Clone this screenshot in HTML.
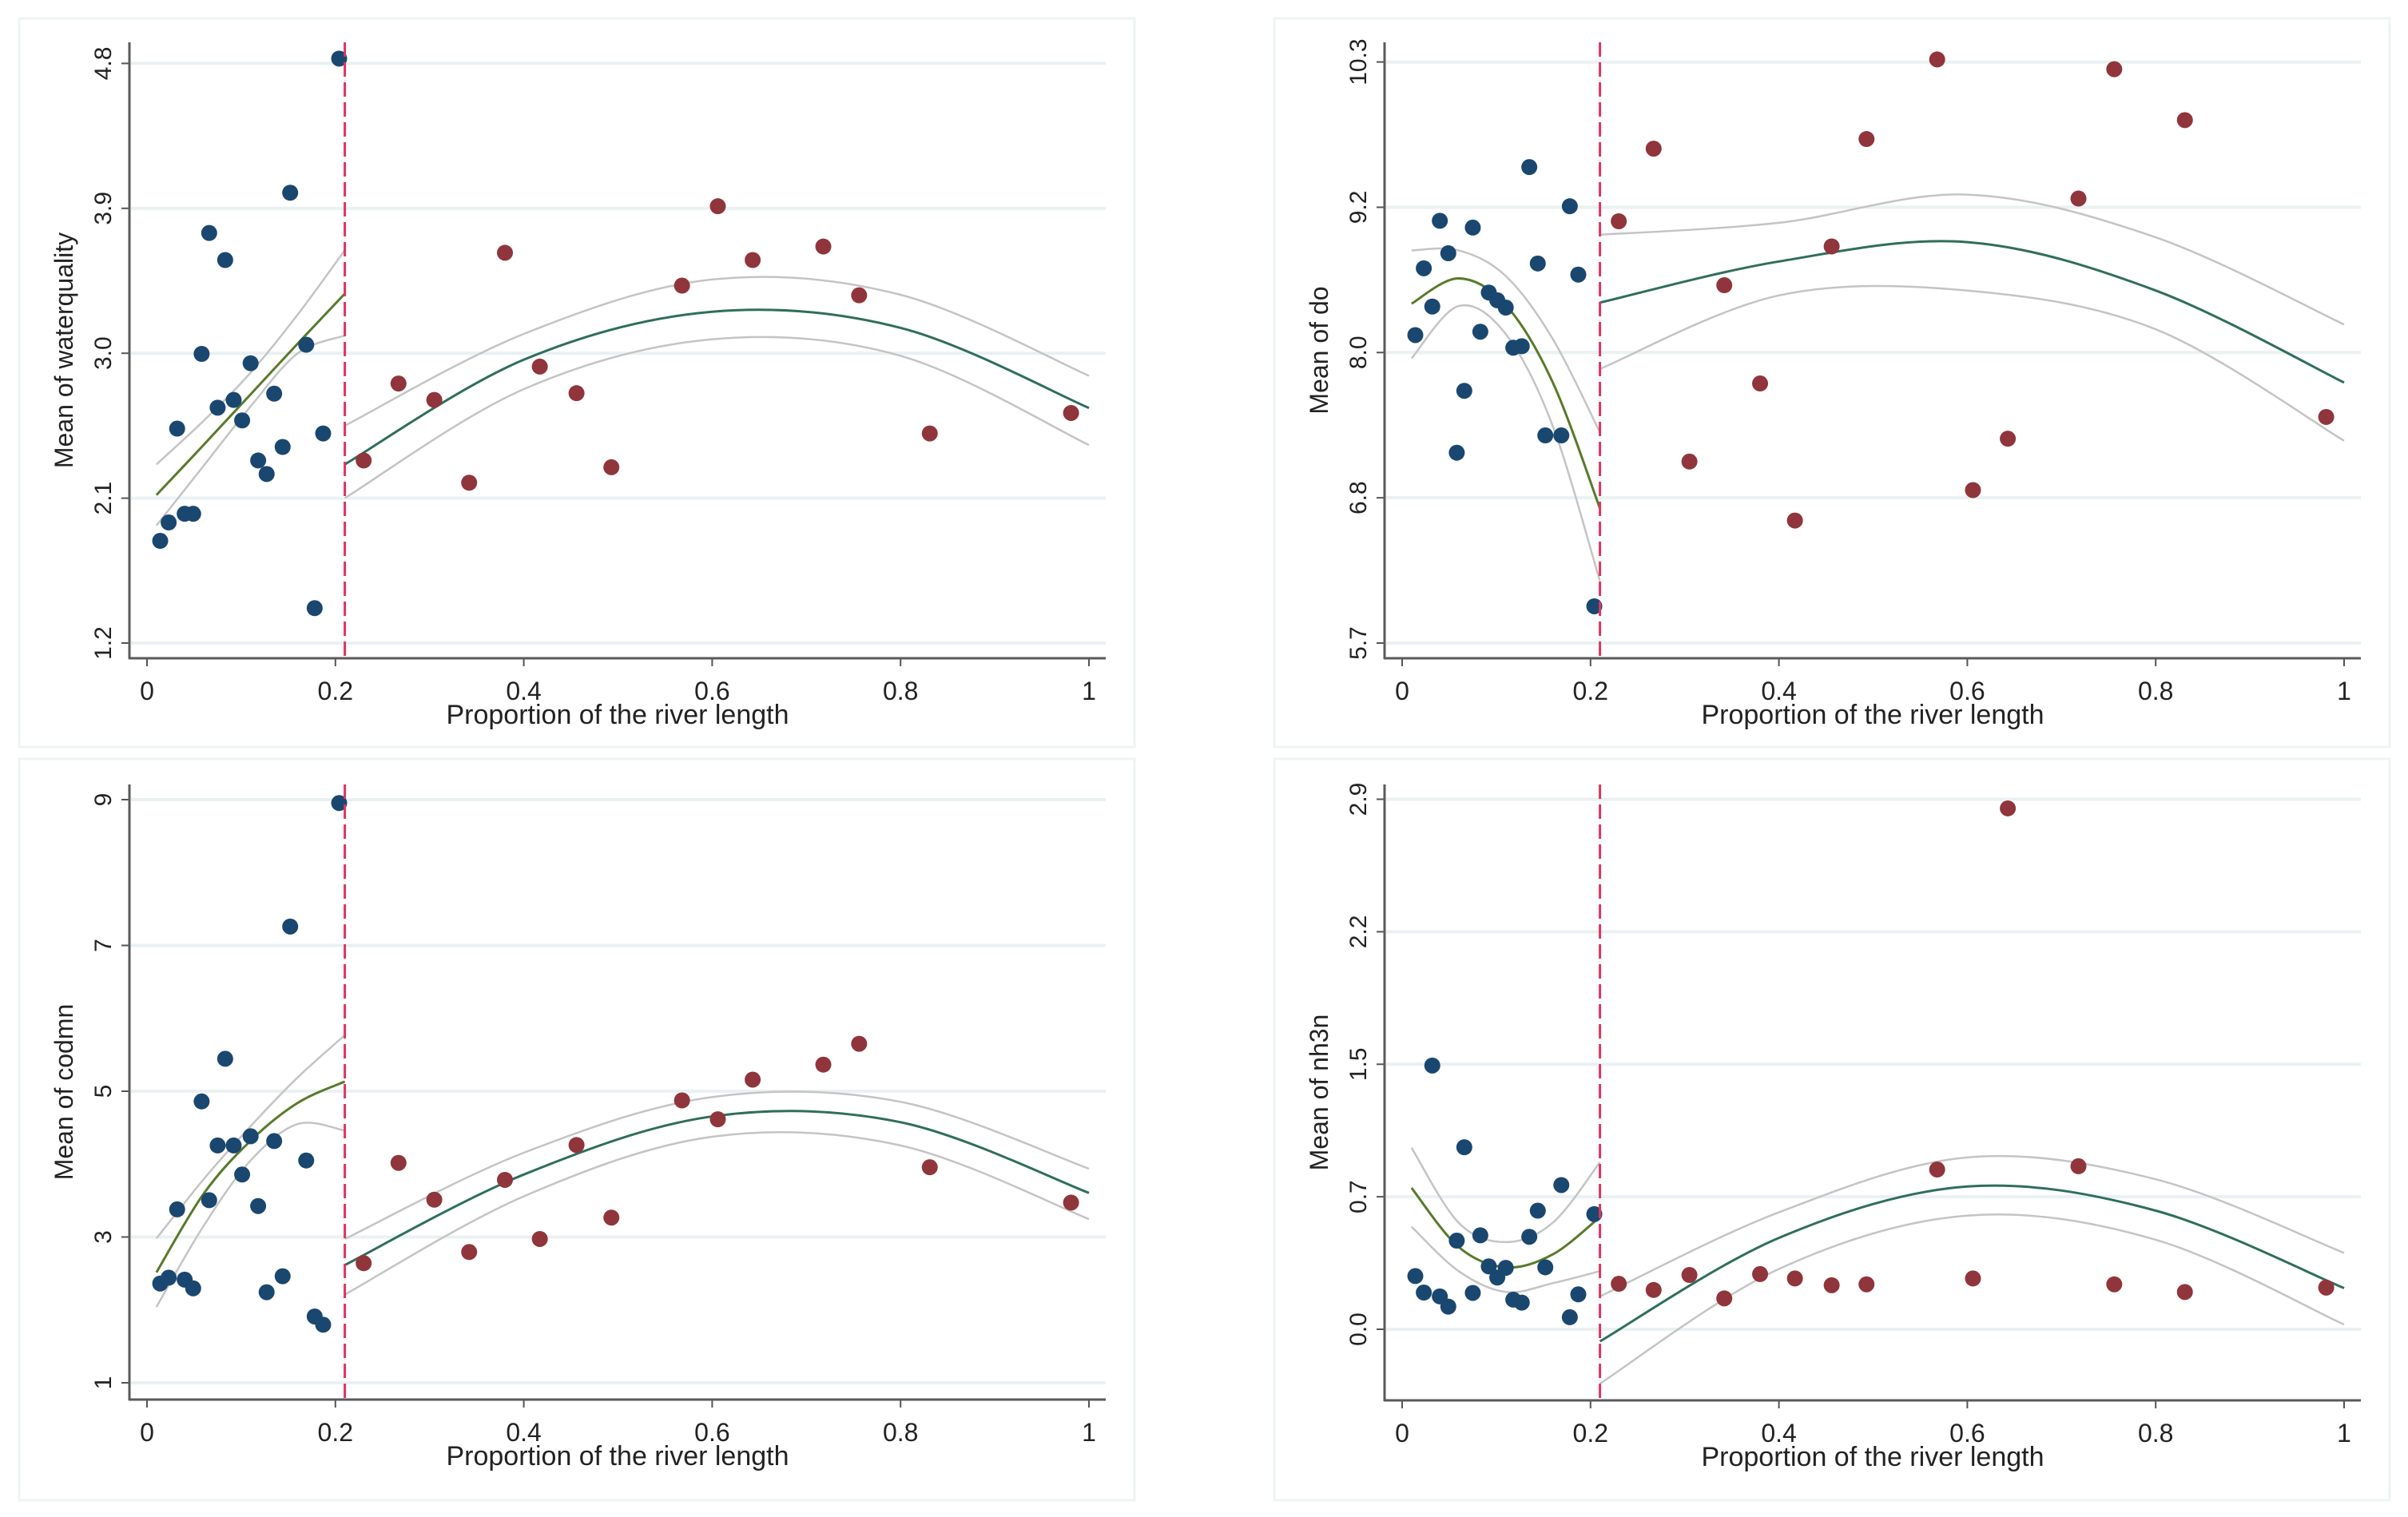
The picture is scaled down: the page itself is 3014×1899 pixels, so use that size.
<!DOCTYPE html>
<html><head><meta charset="utf-8"><title>River proportion plots</title>
<style>
html,body{margin:0;padding:0;background:#fff;}
svg{display:block;}
text{font-family:"Liberation Sans",Arial,sans-serif;fill:#222;}
</style></head>
<body>
<svg id="chart" width="3014" height="1899" viewBox="0 0 3014 1899" xmlns="http://www.w3.org/2000/svg"></svg>
<script>
// ---- shared x data ----
const xBlue = [0.014,0.023,0.032,0.040,0.049,0.058,0.066,0.075,0.083,0.092,0.101,0.110,0.118,0.127,0.135,0.144,0.152,0.169,0.178,0.187,0.204];
const xRed = [0.230,0.267,0.305,0.342,0.380,0.417,0.456,0.493,0.568,0.606,0.643,0.718,0.756,0.831,0.981];
const xTicks = [0,0.2,0.4,0.6,0.8,1];
const xTickLabels = ["0","0.2","0.4","0.6","0.8","1"];
const breakX = 0.21;
const fitXLeft = [0.01,0.06,0.11,0.16,0.21];
const fitXRight = [0.21,0.4,0.6,0.8,1.0];

// ---- waterquality ----
const wqBlue = [1.835,1.949,2.532,2.003,2.003,2.996,3.747,2.662,3.579,2.710,2.583,2.938,2.334,2.250,2.749,2.418,3.997,3.053,1.417,2.502,4.83];
const wqRed = [2.334,2.812,2.710,2.196,3.624,2.917,2.752,2.292,3.420,3.913,3.579,3.663,3.360,2.502,2.629];
const wqFitL = [2.12,2.43,2.745,3.06,3.37];
const wqHiL = [2.31,2.58,2.88,3.24,3.64];
const wqLoL = [1.93,2.30,2.67,3.00,3.11];
const wqFitR = [2.31,2.96,3.258,3.158,2.66];
const wqHiR = [2.55,3.12,3.458,3.363,2.86];
const wqLoR = [2.10,2.777,3.087,2.984,2.43];
const wqTicks = [1.2,2.1,3.0,3.9,4.8];
const wqTickLabels = ["1.2","2.1","3.0","3.9","4.8"];

// ---- do ----
const doBlue = [8.138,8.667,8.364,9.043,8.786,7.207,7.697,8.989,8.165,8.475,8.414,8.356,8.038,8.05,9.468,8.705,7.344,7.344,9.158,8.617,5.991];
const doRed = [9.039,9.614,7.137,8.533,7.755,6.670,8.840,9.690,10.32,6.911,7.318,9.219,10.243,9.84,7.49];
const doFitL = [8.387,8.587,8.376,7.762,6.766];
const doHiL = [8.809,8.809,8.606,8.107,7.367];
const doLoL = [7.954,8.368,8.146,7.417,6.19];
const doFitR = [8.395,8.721,8.874,8.491,7.762];
const doHiR = [8.932,9.027,9.25,8.912,8.222];
const doLoR = [7.87,8.452,8.491,8.184,7.302];
const doTicks = [5.7,6.85,8.0,9.15,10.3];
const doTickLabels = ["5.7","6.8","8.0","9.2","10.3"];

// ---- codmn ----
const codBlue = [2.362,2.442,3.379,2.415,2.296,4.86,3.505,4.256,5.445,4.256,3.857,4.382,3.425,2.243,4.316,2.462,7.259,4.05,1.91,1.797,8.953];
const codRed = [2.641,4.017,3.512,2.794,3.784,2.973,4.262,3.266,4.874,4.615,5.159,5.365,5.651,3.957,3.472];
const codFitL = [2.515,3.591,4.322,4.84,5.133];
const codHiL = [2.98,3.79,4.52,5.19,5.77];
const codLoL = [2.04,3.15,4.05,4.55,4.46];
const codFitR = [2.615,3.857,4.654,4.575,3.605];
const codHiR = [2.973,4.156,4.92,4.854,3.937];
const codLoR = [2.21,3.558,4.375,4.256,3.246];
const codTicks = [1,3,5,7,9];
const codTickLabels = ["1","3","5","7","9"];

// ---- nh3n ----
const nhBlue = [0.291,0.201,1.443,0.180,0.124,0.485,0.996,0.199,0.514,0.344,0.283,0.336,0.162,0.146,0.506,0.649,0.339,0.789,0.066,0.191,0.630];
const nhRed = [0.249,0.215,0.297,0.169,0.302,0.278,0.241,0.246,0.874,0.278,2.850,0.892,0.246,0.204,0.228];
const nhFitL = [0.773,0.450,0.339,0.410,0.614];
const nhHiL = [0.993,0.583,0.477,0.583,0.914];
const nhLoL = [0.561,0.318,0.204,0.252,0.318];
const nhFitR = [-0.066,0.50,0.781,0.649,0.225];
const nhHiR = [0.180,0.64,0.940,0.821,0.418];
const nhLoR = [-0.297,0.33,0.622,0.490,0.026];
const nhTicks = [0,0.725,1.45,2.175,2.9];
const nhTickLabels = ["0.0","0.7","1.5","2.2","2.9"];

const NS = "http://www.w3.org/2000/svg";
const svg = document.getElementById("chart");
function mk(tag, attrs, parent){
  const e = document.createElementNS(NS, tag);
  for (const k in attrs) e.setAttribute(k, attrs[k]);
  (parent||svg).appendChild(e);
  return e;
}
function smoothPath(pts){
  let d = "M"+pts[0][0].toFixed(1)+","+pts[0][1].toFixed(1);
  for (let i=0;i<pts.length-1;i++){
    const p0 = pts[i-1]||pts[i], p1=pts[i], p2=pts[i+1], p3=pts[i+2]||pts[i+1];
    const c1x=p1[0]+(p2[0]-p0[0])/6, c1y=p1[1]+(p2[1]-p0[1])/6;
    const c2x=p2[0]-(p3[0]-p1[0])/6, c2y=p2[1]-(p3[1]-p1[1])/6;
    d += " C"+c1x.toFixed(1)+","+c1y.toFixed(1)+" "+c2x.toFixed(1)+","+c2y.toFixed(1)+" "+p2[0].toFixed(1)+","+p2[1].toFixed(1);
  }
  return d;
}

function drawPanel(p){
  const g = mk("g", {transform:"translate("+p.ox+","+p.oy+")"});
  
  
  const border = mk("rect", {x:24, y:p.by0, width:1396, height:p.by1-p.by0, fill:"none", stroke:"#eef3f4", "stroke-width":3}, g);
  
  

  const axL=162, axR=1384, axT=53, axB=p.axB;
  const x0px=184, x1px=1363;
  const X = v => x0px + v*(x1px-x0px);
  const tmin=p.ticks[0], tmax=p.ticks[p.ticks.length-1];
  const Y = v => p.yMinPx + (v-tmin)/(tmax-tmin)*(p.yMaxPx-p.yMinPx);

  // gridlines and y ticks
  p.ticks.forEach((t,i)=>{
    const gl = mk("line", {x1:axL+2, x2:axR, y1:Y(t), y2:Y(t), stroke:"#eaf1f3", "stroke-width":4}, g);
    
    
    const tk = mk("line", {x1:axL-10, x2:axL, y1:Y(t), y2:Y(t), stroke:"#555", "stroke-width":2}, g);
    
    
    const tl = mk("text", {x:139, y:Y(t), "font-size":30, "text-anchor":"middle", transform:"rotate(-90 139 "+Y(t)+")"}, g);
    tl.textContent = p.tickLabels[i];
    
    
  });
  // x ticks
  xTicks.forEach((t,i)=>{
    const tk = mk("line", {x1:X(t), x2:X(t), y1:axB, y2:axB+10, stroke:"#555", "stroke-width":2}, g);
    
    
    const tl = mk("text", {x:X(t), y:axB+52, "font-size":32, "text-anchor":"middle"}, g);
    tl.textContent = xTickLabels[i];
    
    
  });
  // axes
  const ya = mk("line", {x1:axL, x2:axL, y1:axT, y2:axB+1, stroke:"#5a5a5a", "stroke-width":3}, g);
  
  
  const xa = mk("line", {x1:axL-1, x2:axR, y1:axB, y2:axB, stroke:"#5a5a5a", "stroke-width":3}, g);
  
  

  // titles
  const xt = mk("text", {x:773, y:axB+82, "font-size":34, "text-anchor":"middle"}, g);
  xt.textContent = "Proportion of the river length";
  
  
  const yc = (axT+axB)/2;
  const yt = mk("text", {x:91, y:yc, "font-size":32, "text-anchor":"middle", transform:"rotate(-90 91 "+yc+")"}, g);
  yt.textContent = p.ytitle;
  
  

  // CI and fit curves
  const curve = (xs, ys, color, w, name) => {
    const pts = xs.map((x,i)=>[X(x), Y(ys[i])]);
    const c = mk("path", {d:smoothPath(pts), fill:"none", stroke:color, "stroke-width":w}, g);
    
    
  };
  curve(fitXLeft, p.hiL, "#c4c4c4", 2.5, "ci-upper-left");
  curve(fitXLeft, p.loL, "#c4c4c4", 2.5, "ci-lower-left");
  curve(fitXRight, p.hiR, "#c4c4c4", 2.5, "ci-upper-right");
  curve(fitXRight, p.loR, "#c4c4c4", 2.5, "ci-lower-right");
  curve(fitXLeft, p.fitL, "#587a2a", 3, "fit-line-left");
  curve(fitXRight, p.fitR, "#2f6e5c", 3, "fit-line-right");

  // points
  p.blue.forEach((v,i)=>{
    const c = mk("circle", {cx:X(xBlue[i]), cy:Y(v), r:10, fill:"#1a476f"}, g);
    
    
  });
  p.red.forEach((v,i)=>{
    const c = mk("circle", {cx:X(xRed[i]), cy:Y(v), r:10, fill:"#90353b"}, g);
    
    
  });

  // break line
  const bl = mk("line", {x1:X(breakX), x2:X(breakX), y1:axT, y2:axB, stroke:"#de3561", "stroke-width":3, "stroke-dasharray":"18 7"}, g);
  
  
}

drawPanel({name:"waterquality", ox:0, oy:0, by0:23, by1:935, axB:824, yMinPx:805, yMaxPx:79.4, ticks:wqTicks, tickLabels:wqTickLabels, ytitle:"Mean of waterquality", blue:wqBlue, red:wqRed, fitL:wqFitL, hiL:wqHiL, loL:wqLoL, fitR:wqFitR, hiR:wqHiR, loR:wqLoR});
drawPanel({name:"do", ox:1571, oy:0, by0:23, by1:935, axB:824, yMinPx:805, yMaxPx:77.6, ticks:doTicks, tickLabels:doTickLabels, ytitle:"Mean of do", blue:doBlue, red:doRed, fitL:doFitL, hiL:doHiL, loL:doLoL, fitR:doFitR, hiR:doHiR, loR:doLoR});
drawPanel({name:"codmn", ox:0, oy:929, by0:21, by1:949, axB:823, yMinPx:802, yMaxPx:72, ticks:codTicks, tickLabels:codTickLabels, ytitle:"Mean of codmn", blue:codBlue, red:codRed, fitL:codFitL, hiL:codHiL, loL:codLoL, fitR:codFitR, hiR:codHiR, loR:codLoR});
drawPanel({name:"nh3n", ox:1571, oy:929, by0:21, by1:949, axB:824, yMinPx:735, yMaxPx:71.5, ticks:nhTicks, tickLabels:nhTickLabels, ytitle:"Mean of nh3n", blue:nhBlue, red:nhRed, fitL:nhFitL, hiL:nhHiL, loL:nhLoL, fitR:nhFitR, hiR:nhHiR, loR:nhLoR});
</script>
</body></html>
